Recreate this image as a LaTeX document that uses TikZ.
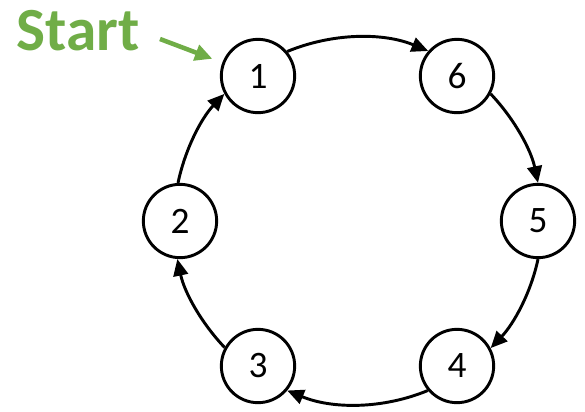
\documentclass[tikz,border=0pt]{standalone}
\usepackage{fontspec}
\setmainfont{Carlito}
\usetikzlibrary{arrows.meta}
\definecolor{startgreen}{RGB}{112,173,71}
\begin{document}
\begin{tikzpicture}[x=0.75pt,y=-0.75pt,
  state/.style={circle,draw=black,line width=2.2pt,minimum size=55pt,inner sep=0pt,
    font=\fontsize{28}{28}\selectfont},
  flow/.style={line width=2.2pt,-{Triangle[length=12.5pt,width=11pt]}},
  longarc/.style={distance=36.6pt},
  shortarc/.style={distance=25.5pt},
  startarrow/.style={startgreen,line width=3.4pt,-{Triangle[length=13pt,width=12pt]}}]
\useasboundingbox (0,0) rectangle (585,411);

% ring of states
\node[state] (n1) at (258,76) {1};
\node[state] (n6) at (457,76) {6};
\node[state] (n5) at (538,221) {5};
\node[state] (n4) at (457,366) {4};
\node[state] (n3) at (258,366) {3};
\node[state] (n2) at (180,221) {2};

% clockwise transitions, each an arc of one large circle
\draw[flow] (n1.40.5)  to[out=22.5,  in=157.5, longarc]  (n6.139.5);
\draw[flow] (n6.-28.4) to[out=-46.5, in=101.9, shortarc] (n5.90.8);
\draw[flow] (n5.-90.8) to[out=-101.9,in=46.5,  shortarc] (n4.28.4);
\draw[flow] (n4.220.5) to[out=202.5, in=-22.5, longarc]  (n3.-40.5);
\draw[flow] (n3.151.6) to[out=133.5, in=-78.1, shortarc] (n2.266.2);
\draw[flow] (n2.93.8)  to[out=78.1,  in=226.5, shortarc] (n1.208.4);

% start marker
\node[anchor=base,text=startgreen,font=\bfseries\fontsize{46}{46}\selectfont] (start) at (78,50) {Start};
\coordinate (sa) at (160,39);
\draw[startarrow,shorten >=8pt] (sa) -- (n1);
\end{tikzpicture}
\end{document}
